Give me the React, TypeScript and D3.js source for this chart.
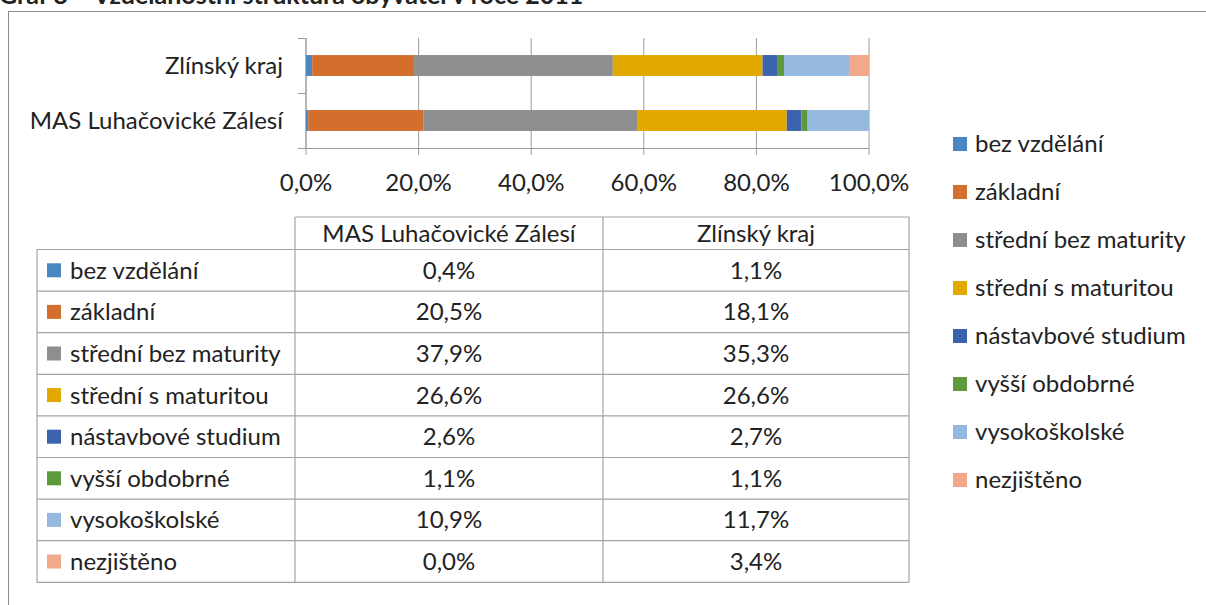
import React from "react";
import * as d3 from "d3";

// education levels (legend / table rows)
const levels = [
  "bez vzdělání",
  "základní",
  "střední bez maturity",
  "střední s maturitou",
  "nástavbové studium",
  "vyšší obdobrné",
  "vysokoškolské",
  "nezjištěno",
];
const levelColors = [
  "#4A87C0",
  "#D36E2D",
  "#8E8E8E",
  "#E2A800",
  "#3C63AD",
  "#5E9A3C",
  "#96B9E0",
  "#F1A88B",
];
// regions, top to bottom in the bar chart
const regions = ["Zlínský kraj", "MAS Luhačovické Zálesí"];
const zlinValues = [1.1, 18.1, 35.3, 26.6, 2.7, 1.1, 11.7, 3.4];
const masValues = [0.4, 20.5, 37.9, 26.6, 2.6, 1.1, 10.9, 0.0];
// table columns, left to right
const tableColumns = ["MAS Luhačovické Zálesí", "Zlínský kraj"];
const xTicks = [0, 20, 40, 60, 80, 100];

const W = 1206;
const H = 605;
const FONT = "Lato, 'Open Sans', sans-serif";
const FS = 24;
const GRID = "#9C9C9C";
const TABLE_LINE = "#A3A3A3";

const fmt = (v: number) => v.toFixed(1).replace(".", ",") + "%";

export default function App() {
  const x = d3.scaleLinear().domain([0, 100]).range([306, 869]);
  const y = d3
    .scaleBand<string>()
    .domain(regions)
    .range([38, 148])
    .paddingInner(0.62)
    .paddingOuter(0.31);

  const rows = regions.map((r) => {
    const vals = r === "Zlínský kraj" ? zlinValues : masValues;
    const o: Record<string, any> = { region: r };
    levels.forEach((l, i) => (o[l] = vals[i]));
    return o;
  });
  const series = d3.stack<any>().keys(levels)(rows);

  // table layout
  const colX = [37, 295, 603, 909];
  const headTop = 217;
  const bodyTop = 249.5;
  const rowH = 41.6;
  const rowY = d3
    .scaleBand<string>()
    .domain(levels)
    .range([bodyTop, bodyTop + rowH * levels.length]);
  const tableBottom = bodyTop + rowH * levels.length;

  // legend layout
  const legY = d3.scalePoint<string>().domain(levels).range([144, 480]);

  return (
    <svg
      width={W}
      height={H}
      style={{ position: "absolute", left: 0, top: 0, display: "block", background: "#fff" }}
      fontFamily={FONT}
    >
      <rect x={0} y={0} width={W} height={H} fill="#fff" />
      {/* title: the page crops it at the top, as in the source */}
      <text x={-1} y={4} fontSize={25} fontWeight="bold" fill="#222">
        Graf 8 – Vzdělanostní struktura obyvatel v roce 2011
      </text>
      <rect x={8.5} y={11.5} width={1400} height={800} fill="none" stroke="#8C8C8C" strokeWidth={1} />

      {/* gridlines + bottom ticks */}
      {xTicks.map((t) => (
        <line key={"g" + t} x1={x(t)} x2={x(t)} y1={38} y2={155} stroke={GRID} strokeWidth={1} />
      ))}
      {/* axes */}
      <line x1={x(0)} x2={x(0)} y1={38} y2={148} stroke={GRID} />
      <line x1={298} x2={x(100)} y1={148.5} y2={148.5} stroke={GRID} />
      <line x1={298} x2={x(0)} y1={93.5} y2={93.5} stroke={GRID} />
      <line x1={298} x2={x(0)} y1={38.5} y2={38.5} stroke={GRID} />

      {/* stacked bars */}
      {series.map((s, i) => (
        <g key={s.key} fill={levelColors[i]}>
          {s.map((d) => (
            <rect
              key={d.data.region}
              x={x(d[0])}
              y={y(d.data.region)}
              width={Math.max(0, x(d[1]) - x(d[0]))}
              height={y.bandwidth()}
            />
          ))}
        </g>
      ))}

      {/* category labels */}
      {regions.map((r) => (
        <text
          key={r}
          x={283}
          y={(y(r) as number) + y.bandwidth() / 2}
          dy="0.35em"
          textAnchor="end"
          fontSize={FS}
          fill="#222"
        >
          {r}
        </text>
      ))}
      {/* x tick labels */}
      {xTicks.map((t) => (
        <text key={"t" + t} x={x(t)} y={183} dy="0.35em" textAnchor="middle" fontSize={FS} fill="#222">
          {fmt(t)}
        </text>
      ))}

      {/* table */}
      <g stroke={TABLE_LINE} strokeWidth={1.2} fill="none">
        <line x1={colX[1]} x2={colX[3]} y1={headTop} y2={headTop} />
        {levels.map((l) => (
          <line key={"r" + l} x1={colX[0]} x2={colX[3]} y1={rowY(l)} y2={rowY(l)} />
        ))}
        <line x1={colX[0]} x2={colX[3]} y1={tableBottom} y2={tableBottom} />
        <line x1={colX[0]} x2={colX[0]} y1={bodyTop} y2={tableBottom} />
        {colX.slice(1).map((cx) => (
          <line key={"c" + cx} x1={cx} x2={cx} y1={headTop} y2={tableBottom} />
        ))}
      </g>
      {tableColumns.map((c, j) => (
        <text
          key={"h" + c}
          x={(colX[j + 1] + colX[j + 2]) / 2}
          y={(headTop + bodyTop) / 2}
          dy="0.35em"
          textAnchor="middle"
          fontSize={FS}
          fill="#222"
        >
          {c}
        </text>
      ))}
      {levels.map((l, i) => {
        const cy = (rowY(l) as number) + rowH / 2;
        return (
          <g key={"row" + l}>
            <rect x={47} y={cy - 7} width={14} height={14} fill={levelColors[i]} />
            <text x={70} y={cy} dy="0.35em" fontSize={FS} fill="#222">
              {l}
            </text>
            {[masValues[i], zlinValues[i]].map((v, j) => (
              <text
                key={j}
                x={(colX[j + 1] + colX[j + 2]) / 2}
                y={cy}
                dy="0.35em"
                textAnchor="middle"
                fontSize={FS}
                fill="#222"
              >
                {fmt(v)}
              </text>
            ))}
          </g>
        );
      })}

      {/* legend */}
      {levels.map((l, i) => (
        <g key={"leg" + l}>
          <rect x={953} y={(legY(l) as number) - 7} width={14} height={14} fill={levelColors[i]} />
          <text x={975} y={legY(l)} dy="0.35em" fontSize={FS} fill="#222">
            {l}
          </text>
        </g>
      ))}
    </svg>
  );
}
